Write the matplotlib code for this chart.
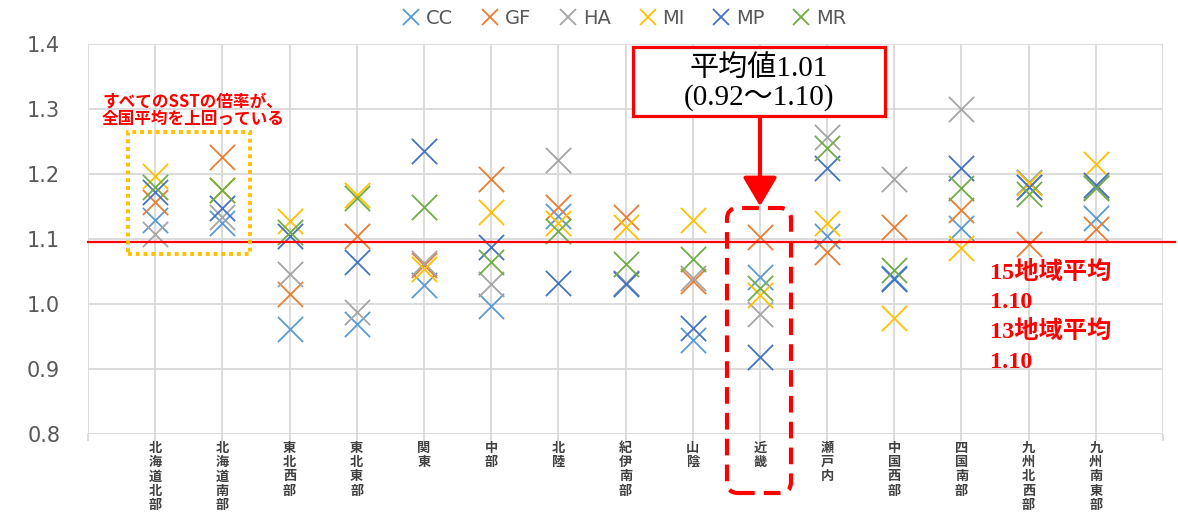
import matplotlib
matplotlib.use("Agg")
import matplotlib.pyplot as plt
from matplotlib.lines import Line2D
from matplotlib.patches import Rectangle, FancyBboxPatch, FancyArrowPatch
from matplotlib.transforms import IdentityTransform, blended_transform_factory

plt.rcParams["font.family"] = ["Noto Sans CJK JP", "DejaVu Sans"]

# ---- data ----
regions = ["北海道北部", "北海道南部", "東北西部", "東北東部", "関東", "中部", "北陸",
           "紀伊南部", "山陰", "近畿", "瀬戸内", "中国西部", "四国南部", "九州北西部", "九州南東部"]
series_names = ["CC", "GF", "HA", "MI", "MP", "MR"]
cc = [1.130, 1.125, 0.962, 0.969, 1.030, 0.997, 1.135, 1.033, 0.945, 1.042, 1.104, 1.040, 1.117, 1.188, 1.132]
gf = [1.157, 1.226, 1.015, 1.104, 1.060, 1.193, 1.149, 1.134, 1.036, 1.103, 1.080, 1.119, 1.145, 1.093, 1.116]
ha = [1.108, 1.134, 1.046, 0.987, 1.063, 1.031, 1.222, 1.033, 1.040, 0.985, 1.257, 1.193, 1.300, 1.180, 1.180]
mi = [1.197, 1.175, 1.127, 1.168, 1.054, 1.142, 1.124, 1.118, 1.129, 1.014, 1.124, 0.979, 1.086, 1.186, 1.216]
mp = [1.172, 1.148, 1.105, 1.065, 1.236, 1.087, 1.033, 1.031, 0.963, 0.919, 1.210, 1.039, 1.209, 1.180, 1.183]
mr = [1.180, 1.175, 1.110, 1.163, 1.149, 1.064, 1.112, 1.062, 1.069, 1.024, 1.240, 1.053, 1.178, 1.170, 1.178]
national_avg = 1.095
y_ticks = [0.8, 0.9, 1.0, 1.1, 1.2, 1.3, 1.4]

colors = ["#5B9BD5", "#ED7D31", "#A5A5A5", "#FFC000", "#4472C4", "#70AD47"]
values = [cc, gf, ha, mi, mp, mr]

W, H = 1178, 514
fig = plt.figure(figsize=(W / 100, H / 100), dpi=100)
ax = fig.add_axes([88 / W, 1 - 434 / H, (1163 - 88) / W, (434 - 44) / H])

xs = list(range(1, len(regions) + 1))
for name, col, vals in zip(series_names, colors, values):
    ax.scatter(xs, vals, marker="x", s=330, color=col, linewidths=1.3, zorder=3, label=name)

ax.set_xlim(0, 16)
ax.set_ylim(0.8, 1.4)
ax.set_yticks(y_ticks)
ax.set_yticklabels([f"{v:.1f}" for v in y_ticks], fontsize=15, color="#595959",
                   family=["DejaVu Sans"])
ax.set_xticks(range(0, 17))
ax.set_xticklabels([])
ax.tick_params(axis="y", length=0, pad=20)
ax.tick_params(axis="x", length=5, width=1.3, color="#d9d9d9")
ax.grid(True, color="#d9d9d9", linewidth=1.3)
ax.set_axisbelow(True)
for sp in ax.spines.values():
    sp.set_visible(False)

# vertical category labels, one character per row
ident = IdentityTransform()
lab_tr = blended_transform_factory(ax.transData, ident)
for x, name in zip(xs, regions):
    for i, ch in enumerate(name):
        ax.text(x, H - (448 + i * 14.2), ch, transform=lab_tr, fontsize=9.5,
                fontweight="bold", color="#404040", ha="center", va="center",
                clip_on=False)

# national average line
ax.plot([0, 16.18], [national_avg, national_avg], color="#FF0000", lw=1.6,
        clip_on=False, zorder=4)

# legend
handles = [Line2D([], [], marker="x", ls="none", color=c, markersize=11, markeredgewidth=1.3)
           for c in colors]
fig.legend(handles, series_names, loc="center", bbox_to_anchor=(623 / W, 1 - 18 / H),
           ncol=6, frameon=False, labelcolor="#595959",
           handletextpad=0.15, columnspacing=1.3, handlelength=1.2,
           prop={"family": ["DejaVu Sans"], "size": 14})


# ---- overlays in pixel coordinates (y measured from top) ----
def py(y):
    return H - y


fig.text(193 / W, 1 - 102 / H, "すべてのSSTの倍率が、", color="#FF0000", fontsize=12,
         fontweight="bold", ha="center", va="center")
fig.text(193 / W, 1 - 119 / H, "全国平均を上回っている", color="#FF0000", fontsize=12,
         fontweight="bold", ha="center", va="center")

fig.patches.append(Rectangle((128, py(254)), 122, 122, transform=ident, fill=False,
                             edgecolor="#FFC000", lw=2.8, ls=(0, (1, 1)), zorder=5))

fig.patches.append(FancyBboxPatch((727, py(493)), 64, 285, transform=ident, fill=False,
                                  boxstyle="round,pad=0,rounding_size=11",
                                  edgecolor="#FF0000", lw=3, ls=(0, (4, 2.2)), zorder=5))

fig.patches.append(Rectangle((633, py(116)), 252, 69, transform=ident, facecolor="white",
                             edgecolor="#FF0000", lw=2.3, zorder=6))
serif = ["Liberation Serif", "Noto Sans CJK JP"]
fig.text(759 / W, 1 - 68 / H, "平均値1.01", fontsize=21, family=serif, ha="center",
         va="center", color="black", zorder=7)
fig.text(759 / W, 1 - 98 / H, "(0.92～1.10)", fontsize=21, family=serif, ha="center",
         va="center", color="black", zorder=7)

fig.patches.append(FancyArrowPatch((760, py(116)), (760, py(209)), transform=ident,
                                   arrowstyle="-|>,head_length=1.1,head_width=0.65",
                                   mutation_scale=16, color="#FF0000", lw=3, zorder=6))

for txt, yy in [("15地域平均", 272), ("1.10", 302), ("13地域平均", 331), ("1.10", 362)]:
    fig.text(990 / W, 1 - yy / H, txt, fontsize=17.5, family=serif, fontweight="bold",
             color="#FF0000", ha="left", va="center")

fig.savefig("out.png", dpi=100)
